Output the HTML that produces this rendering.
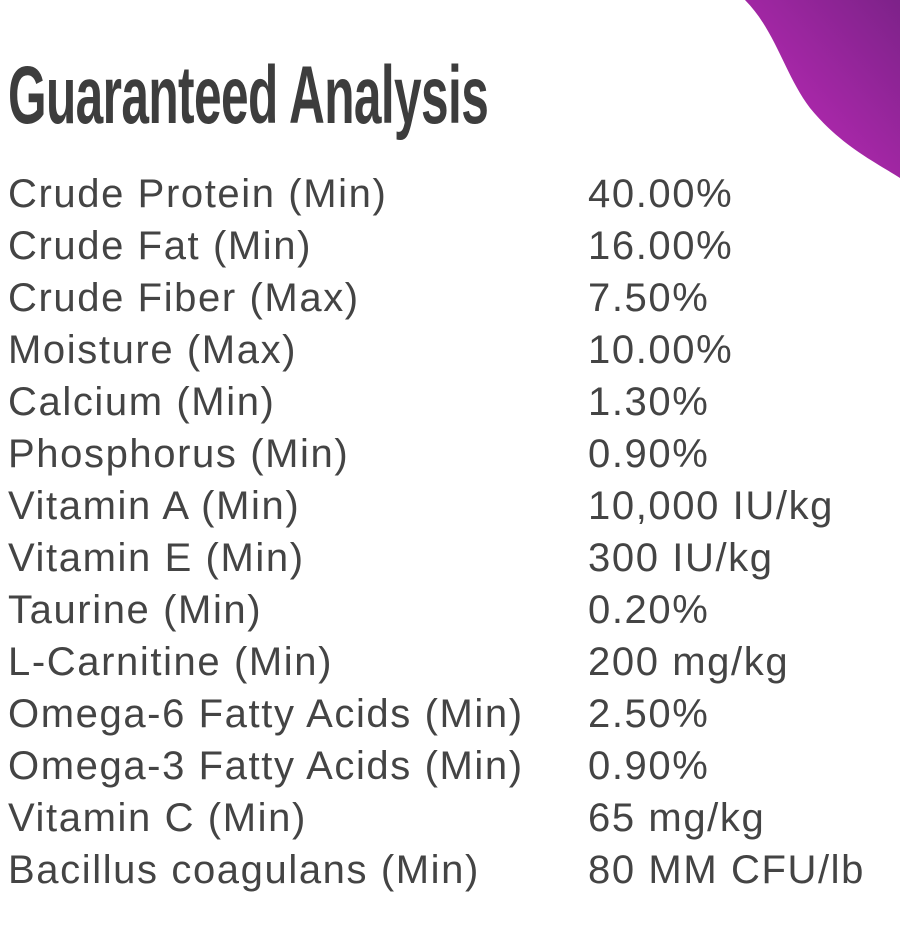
<!DOCTYPE html>
<html><head><meta charset="utf-8"><style>
html,body{margin:0;padding:0;background:#fff;}
body{width:900px;height:952px;position:relative;overflow:hidden;font-family:"Liberation Sans",sans-serif;}
.t{position:absolute;left:8px;top:46px;font-weight:bold;font-size:82px;color:#3d3d3d;line-height:100px;white-space:nowrap;transform-origin:0 0;transform:scaleX(0.605);letter-spacing:-1px;}
.r{position:absolute;font-size:40px;color:#444;white-space:nowrap;line-height:52px;letter-spacing:1.6px;}
</style></head><body>
<svg width="900" height="952" style="position:absolute;left:0;top:0">
<defs><linearGradient id="g" x1="0" y1="1" x2="1" y2="0"><stop offset="0" stop-color="#c42bbd"/><stop offset="1" stop-color="#7d2289"/></linearGradient></defs>
<path d="M745,0 C775,30 785,75 810,108 C840,145 875,162 900,178 L900,0 Z" fill="url(#g)"/>
</svg>
<div class="t">Guaranteed Analysis</div>
<div class="r" style="left:8px;top:168px">Crude Protein (Min)</div><div class="r" style="left:588px;top:168px">40.00%</div>
<div class="r" style="left:8px;top:220px">Crude Fat (Min)</div><div class="r" style="left:588px;top:220px">16.00%</div>
<div class="r" style="left:8px;top:272px">Crude Fiber (Max)</div><div class="r" style="left:588px;top:272px">7.50%</div>
<div class="r" style="left:8px;top:324px">Moisture (Max)</div><div class="r" style="left:588px;top:324px">10.00%</div>
<div class="r" style="left:8px;top:376px">Calcium (Min)</div><div class="r" style="left:588px;top:376px">1.30%</div>
<div class="r" style="left:8px;top:428px">Phosphorus (Min)</div><div class="r" style="left:588px;top:428px">0.90%</div>
<div class="r" style="left:8px;top:480px">Vitamin A (Min)</div><div class="r" style="left:588px;top:480px">10,000 IU/kg</div>
<div class="r" style="left:8px;top:532px">Vitamin E (Min)</div><div class="r" style="left:588px;top:532px">300 IU/kg</div>
<div class="r" style="left:8px;top:584px">Taurine (Min)</div><div class="r" style="left:588px;top:584px">0.20%</div>
<div class="r" style="left:8px;top:636px">L-Carnitine (Min)</div><div class="r" style="left:588px;top:636px">200 mg/kg</div>
<div class="r" style="left:8px;top:688px">Omega-6 Fatty Acids (Min)</div><div class="r" style="left:588px;top:688px">2.50%</div>
<div class="r" style="left:8px;top:740px">Omega-3 Fatty Acids (Min)</div><div class="r" style="left:588px;top:740px">0.90%</div>
<div class="r" style="left:8px;top:792px">Vitamin C (Min)</div><div class="r" style="left:588px;top:792px">65 mg/kg</div>
<div class="r" style="left:8px;top:844px">Bacillus coagulans (Min)</div><div class="r" style="left:588px;top:844px">80 MM CFU/lb</div>
</body></html>
